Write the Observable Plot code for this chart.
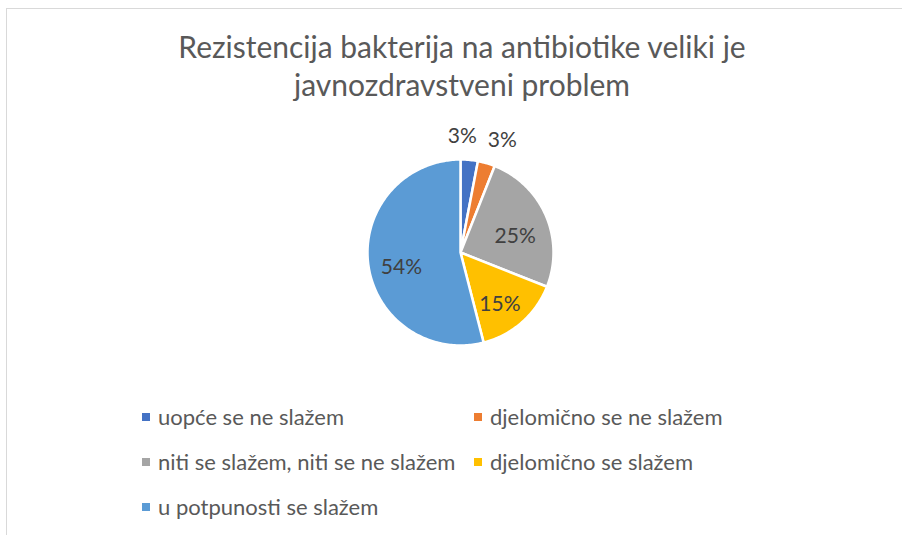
<!DOCTYPE html>
<html>
<head>
<meta charset="utf-8">
<script src="https://cdn.jsdelivr.net/npm/d3@7"></script>
<script src="https://cdn.jsdelivr.net/npm/@observablehq/plot@0.6"></script>
<style>
  html, body { margin: 0; padding: 0; background: #fff; }
  #chart { position: relative; width: 902px; height: 535px; overflow: hidden; font-family: Lato, "Open Sans", sans-serif; }
  #frameTop { position: absolute; left: 6px; top: 8px; right: 0; height: 0; border-top: 1.5px solid #d9d9d9; }
  #frameLeft { position: absolute; left: 6px; top: 8px; bottom: 0; width: 0; border-left: 1.5px solid #d9d9d9; }
  #title { position: absolute; left: 0; width: 924px; top: 27px; text-align: center; color: #595959; font-size: 30px; line-height: 38px; }
  #pie { position: absolute; left: 0; top: 105px; }
  #legend { position: absolute; left: 142px; top: 394px; display: grid; grid-template-columns: 332px 300px; grid-auto-rows: 45px; color: #595959; font-size: 22px; }
  .item { display: flex; align-items: center; white-space: nowrap; }
  .sw { width: 8px; height: 8px; margin-right: 8px; flex: none; }
</style>
</head>
<body>
<div id="chart">
  <div id="frameTop"></div>
  <div id="frameLeft"></div>
  <div id="title"></div>
  <div id="pie"></div>
  <div id="legend"></div>
</div>
<script>
const titleLines = ["Rezistencija bakterija na antibiotike veliki je", "javnozdravstveni problem"];
const categories = ["uopće se ne slažem", "djelomično se ne slažem", "niti se slažem, niti se ne slažem", "djelomično se slažem", "u potpunosti se slažem"];
const values = [3, 3, 25, 15, 54];
const colors = ["#4472C4", "#ED7D31", "#A5A5A5", "#FFC000", "#5B9BD5"];

document.getElementById("title").innerHTML = titleLines.join("<br>");

const W = 902, H = 280, cx = 460, cy = 147, R = 93;

// Slice outlines built from the values (arc geometry on a unit circle)
const total = d3.sum(values);
const pts = [];
const labels = [];
let cum = 0;
values.forEach((v, i) => {
  const a0 = cum / total * 2 * Math.PI;
  const a1 = (cum + v) / total * 2 * Math.PI;
  cum += v;
  const cat = categories[i];
  pts.push({cat, x: 0, y: 0});
  const n = Math.max(2, Math.ceil((a1 - a0) / (Math.PI / 180)));
  for (let k = 0; k <= n; k++) {
    const a = a0 + (a1 - a0) * k / n;
    pts.push({cat, x: Math.sin(a), y: Math.cos(a)});
  }
  pts.push({cat, x: 0, y: 0});
  const am = (a0 + a1) / 2;
  const outside = v / total < 0.05;
  const r = outside ? 1.26 : 0.64;
  labels.push({cat, outside, text: Math.round(v / total * 100) + "%", x: r * Math.sin(am), y: r * Math.cos(am) - (outside ? 0 : 0.08)});
});
// push neighbouring outside labels apart so they do not overlap
const minSep = 40 / R;
const outs = labels.filter(d => d.outside);
for (let k = 1; k < outs.length; k++) {
  const a = outs[k - 1], b = outs[k];
  const gap = b.x - a.x;
  if (gap < minSep) {
    const push = (minSep - gap) / 2;
    a.x -= push; b.x += push;
  }
}

const pie = Plot.plot({
  width: W, height: H,
  margin: 0,
  x: {domain: [-cx / R, (W - cx) / R], axis: null},
  y: {domain: [-(H - cy) / R, cy / R], axis: null},
  color: {domain: categories, range: colors},
  marks: [
    Plot.line(pts, {x: "x", y: "y", z: "cat", fill: "cat", stroke: "white", strokeWidth: 2.5, strokeLinejoin: "round"}),
    Plot.text(labels, {x: "x", y: "y", text: "text", fill: "#404040", fontSize: 21, fontFamily: "Lato, 'Open Sans', sans-serif"})
  ]
});
document.getElementById("pie").appendChild(pie);

const legend = document.getElementById("legend");
categories.forEach((c, i) => {
  const it = document.createElement("div");
  it.className = "item";
  const sw = document.createElement("span");
  sw.className = "sw";
  sw.style.background = colors[i];
  const t = document.createElement("span");
  t.textContent = c;
  it.appendChild(sw);
  it.appendChild(t);
  legend.appendChild(it);
});
</script>
</body>
</html>
